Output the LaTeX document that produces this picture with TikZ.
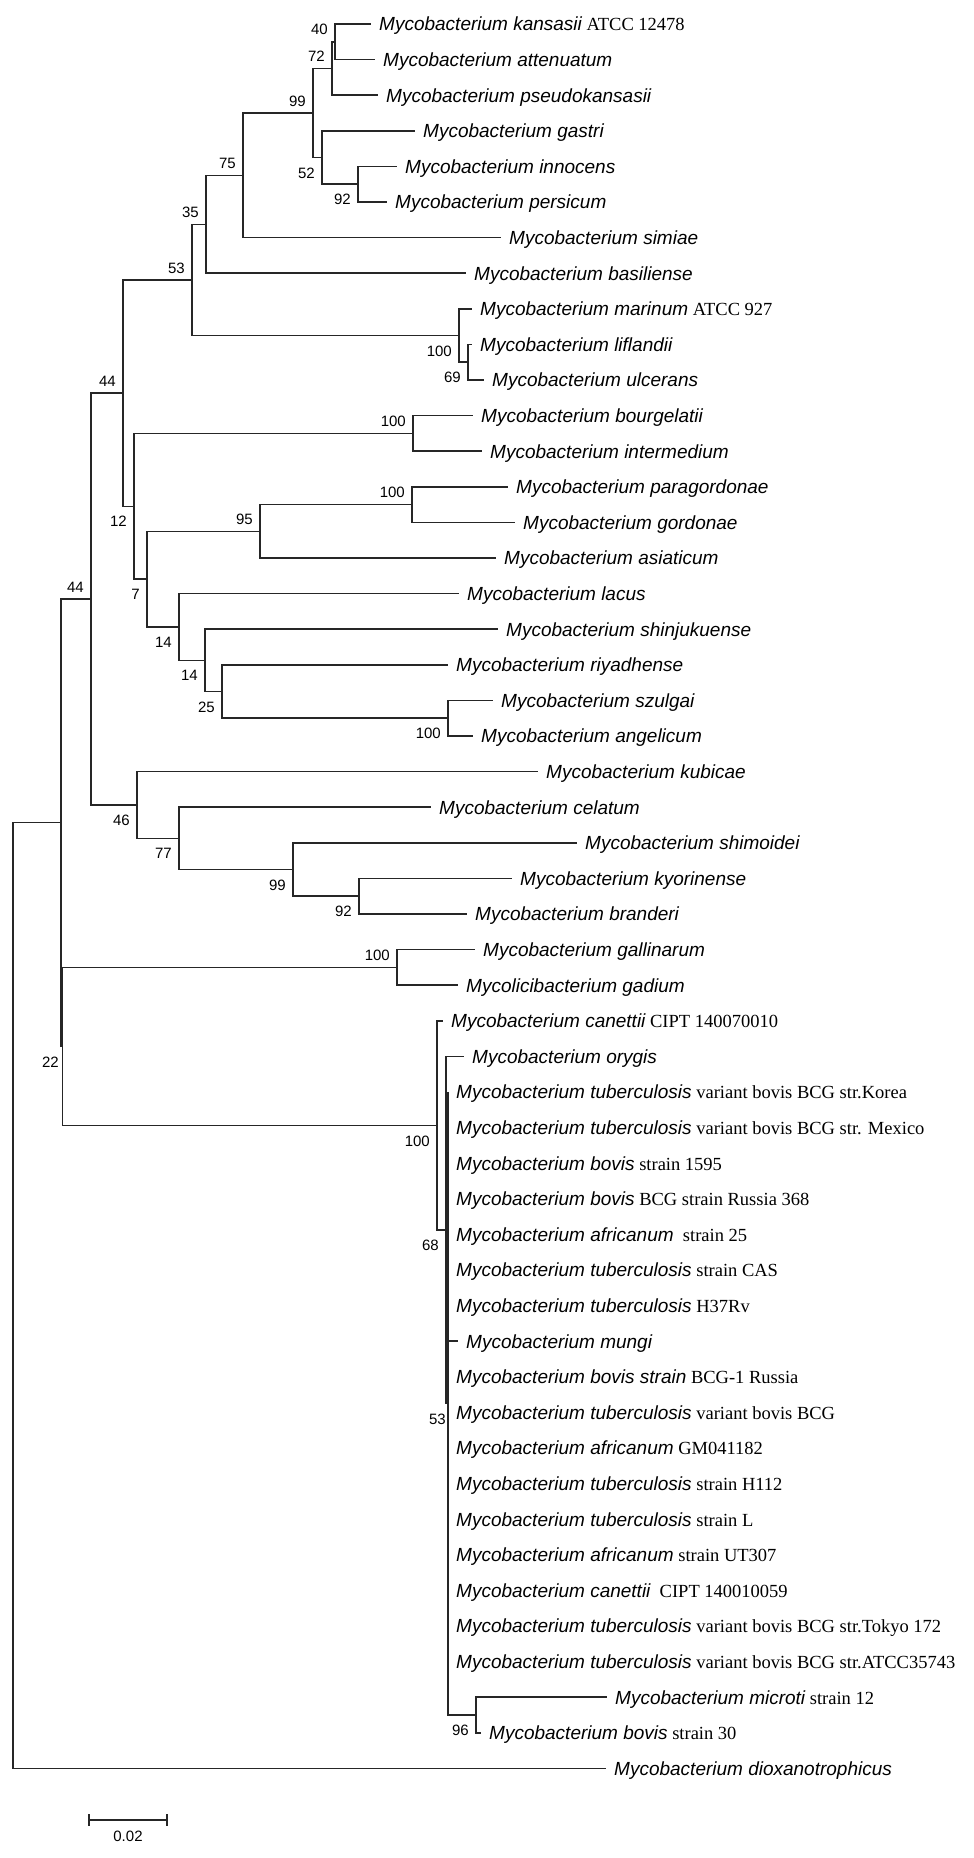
\documentclass[tikz,border=0pt]{standalone}
\usepackage{fontspec}
\setmainfont{Liberation Serif}
\setsansfont{Liberation Sans}
\usepackage{tikz}
\newcommand{\taxit}[1]{{\sffamily\itshape\fontsize{19}{22}\selectfont #1}}
\newcommand{\bsfont}{\sffamily\fontsize{15}{17}\selectfont}
\begin{document}
\begin{tikzpicture}[x=1pt,y=-35.6pt,
    branch/.style={line width=1.5pt,black!85},
    taxon/.style={anchor=base west,inner sep=0pt,xshift=8pt,yshift=-6.8pt,font=\fontsize{18.5}{22}\selectfont},
    bsup/.style={anchor=south east,inner sep=0pt,xshift=-7pt,yshift=6.5pt,font=\bsfont},
    bslow/.style={anchor=north east,inner sep=0pt,xshift=-7pt,yshift=-10pt,font=\bsfont}]
      \useasboundingbox (0,-0.6742) rectangle (974,51.517);
      % leaf tips
      \coordinate (l0) at (371,0);  \coordinate (l1) at (375,1);  \coordinate (l2) at (378,2);
      \coordinate (l3) at (415,3);  \coordinate (l4) at (397,4);  \coordinate (l5) at (387,5);
      \coordinate (l6) at (501,6);  \coordinate (l7) at (466,7);  \coordinate (l8) at (472,8);
      \coordinate (l9) at (472,9);  \coordinate (l10) at (484,10); \coordinate (l11) at (473,11);
      \coordinate (l12) at (482,12); \coordinate (l13) at (508,13); \coordinate (l14) at (515,14);
      \coordinate (l15) at (496,15); \coordinate (l16) at (459,16); \coordinate (l17) at (498,17);
      \coordinate (l18) at (448,18); \coordinate (l19) at (493,19); \coordinate (l20) at (473,20);
      \coordinate (l21) at (538,21); \coordinate (l22) at (431,22); \coordinate (l23) at (577,23);
      \coordinate (l24) at (512,24); \coordinate (l25) at (467,25); \coordinate (l26) at (475,26);
      \coordinate (l27) at (458,27); \coordinate (l28) at (443,28); \coordinate (l29) at (464,29);
      \coordinate (l30) at (448,30); \coordinate (l31) at (448,31); \coordinate (l32) at (448,32);
      \coordinate (l33) at (448,33); \coordinate (l34) at (448,34); \coordinate (l35) at (448,35);
      \coordinate (l36) at (448,36); \coordinate (l37) at (458,37); \coordinate (l38) at (448,38);
      \coordinate (l39) at (448,39); \coordinate (l40) at (448,40); \coordinate (l41) at (448,41);
      \coordinate (l42) at (448,42); \coordinate (l43) at (448,43); \coordinate (l44) at (448,44);
      \coordinate (l45) at (448,45); \coordinate (l46) at (448,46); \coordinate (l47) at (607,47);
      \coordinate (l48) at (481,48); \coordinate (l49) at (606,49);
      % inner nodes
      \coordinate (n40) at (335,0.5);
      \coordinate (n72) at (332,1.25);
      \coordinate (n92a) at (358,4.5);
      \coordinate (n52) at (322,3.75);
      \coordinate (n99a) at (313,2.5);
      \coordinate (n75) at (243,4.25);
      \coordinate (n35) at (206,5.625);
      \coordinate (n69) at (468,9.5);
      \coordinate (n100a) at (459,8.75);
      \coordinate (n53a) at (192,7.1875);
      \coordinate (n100b) at (413,11.5);
      \coordinate (n100c) at (412,13.5);
      \coordinate (n95) at (260,14.25);
      \coordinate (n100d) at (448,19.5);
      \coordinate (n25) at (222,18.75);
      \coordinate (n14b) at (205,17.875);
      \coordinate (n14a) at (179,16.9375);
      \coordinate (n7) at (147,15.59375);
      \coordinate (n12) at (134,13.546875);
      \coordinate (n44a) at (123,10.3671875);
      \coordinate (n92b) at (359,24.5);
      \coordinate (n99b) at (293,23.75);
      \coordinate (n77) at (179,22.875);
      \coordinate (n46) at (137,21.9375);
      \coordinate (n44b) at (91,16.15234);
      \coordinate (n100e) at (397,26.5);
      \coordinate (n96) at (476,47.5);
      \coordinate (n53b) at (448,38.75);
      \coordinate (n68) at (446,33.875);
      \coordinate (n100f) at (437,30.9375);
      \coordinate (n22) at (62.5,28.71875);
      \coordinate (n61) at (61,22.43555);
      \coordinate (root) at (13,35.71778);
      % branches
      \draw[branch] (n40) |- (l0);  \draw[branch] (n40) |- (l1);
      \draw[branch] (n72) |- (n40); \draw[branch] (n72) |- (l2);
      \draw[branch] (n92a) |- (l4); \draw[branch] (n92a) |- (l5);
      \draw[branch] (n52) |- (l3);  \draw[branch] (n52) |- (n92a);
      \draw[branch] (n99a) |- (n72); \draw[branch] (n99a) |- (n52);
      \draw[branch] (n75) |- (n99a); \draw[branch] (n75) |- (l6);
      \draw[branch] (n35) |- (n75); \draw[branch] (n35) |- (l7);
      \draw[branch] (n69) |- (l9);  \draw[branch] (n69) |- (l10);
      \draw[branch] (n100a) |- (l8); \draw[branch] (n100a) |- (n69);
      \draw[branch] (n53a) |- (n35); \draw[branch] (n53a) |- (n100a);
      \draw[branch] (n100b) |- (l11); \draw[branch] (n100b) |- (l12);
      \draw[branch] (n100c) |- (l13); \draw[branch] (n100c) |- (l14);
      \draw[branch] (n95) |- (n100c); \draw[branch] (n95) |- (l15);
      \draw[branch] (n100d) |- (l19); \draw[branch] (n100d) |- (l20);
      \draw[branch] (n25) |- (l18); \draw[branch] (n25) |- (n100d);
      \draw[branch] (n14b) |- (l17); \draw[branch] (n14b) |- (n25);
      \draw[branch] (n14a) |- (l16); \draw[branch] (n14a) |- (n14b);
      \draw[branch] (n7) |- (n95);  \draw[branch] (n7) |- (n14a);
      \draw[branch] (n12) |- (n100b); \draw[branch] (n12) |- (n7);
      \draw[branch] (n44a) |- (n53a); \draw[branch] (n44a) |- (n12);
      \draw[branch] (n92b) |- (l24); \draw[branch] (n92b) |- (l25);
      \draw[branch] (n99b) |- (l23); \draw[branch] (n99b) |- (n92b);
      \draw[branch] (n77) |- (l22); \draw[branch] (n77) |- (n99b);
      \draw[branch] (n46) |- (l21); \draw[branch] (n46) |- (n77);
      \draw[branch] (n44b) |- (n44a); \draw[branch] (n44b) |- (n46);
      \draw[branch] (n100e) |- (l26); \draw[branch] (n100e) |- (l27);
      \draw[branch] (n96) |- (l47); \draw[branch] (n96) |- (l48);
      \draw[branch] (n53b) |- (l30); \draw[branch] (n53b) |- (n96);
      \draw[branch] (n53b) |- (l37);
      \draw[branch] (n68) |- (l29); \draw[branch] (n68) |- (n53b);
      \draw[branch] (n100f) |- (l28); \draw[branch] (n100f) |- (n68);
      \draw[branch] (n22) |- (n100e); \draw[branch] (n22) |- (n100f);
      \draw[branch] (n61) |- (n44b); \draw[branch] (n61) |- (n22);
      \draw[branch] (root) |- (n61); \draw[branch] (root) |- (l49);
      % bootstrap values
      \node[bsup] (b40) at (n40) {40};
      \node[bsup] (b72) at (n72) {72};
      \node[bslow] (b92a) at (n92a) {92};
      \node[bslow] (b52) at (n52) {52};
      \node[bsup] (b99a) at (n99a) {99};
      \node[bsup] (b75) at (n75) {75};
      \node[bsup] (b35) at (n35) {35};
      \node[bslow] (b69) at (n69) {69};
      \node[bslow] (b100a) at (n100a) {100};
      \node[bsup] (b53a) at (n53a) {53};
      \node[bsup] (b100b) at (n100b) {100};
      \node[bsup] (b100c) at (n100c) {100};
      \node[bsup] (b95) at (n95) {95};
      \node[bslow] (b100d) at (n100d) {100};
      \node[bslow] (b25) at (n25) {25};
      \node[bslow] (b14b) at (n14b) {14};
      \node[bslow] (b14a) at (n14a) {14};
      \node[bslow] (b7) at (n7) {7};
      \node[bslow] (b12) at (n12) {12};
      \node[bsup] (b44a) at (n44a) {44};
      \node[bslow] (b92b) at (n92b) {92};
      \node[bslow] (b99b) at (n99b) {99};
      \node[bslow] (b77) at (n77) {77};
      \node[bslow] (b46) at (n46) {46};
      \node[bsup] (b44b) at (n44b) {44};
      \node[bsup] (b100e) at (n100e) {100};
      \node[bslow] (b96) at (n96) {96};
      \node[bslow,xshift=5pt] (b53b) at (n53b) {53};
      \node[bslow] (b68) at (n68) {68};
      \node[bslow] (b100f) at (n100f) {100};
      \node[bslow,xshift=3.5pt] (b22) at (n22) {22};
      % taxa
      \node[taxon] (t0) at (l0) {\taxit{Mycobacterium kansasii} ATCC 12478};
      \node[taxon] (t1) at (l1) {\taxit{Mycobacterium attenuatum}};
      \node[taxon] (t2) at (l2) {\taxit{Mycobacterium pseudokansasii}};
      \node[taxon] (t3) at (l3) {\taxit{Mycobacterium gastri}};
      \node[taxon] (t4) at (l4) {\taxit{Mycobacterium innocens}};
      \node[taxon] (t5) at (l5) {\taxit{Mycobacterium persicum}};
      \node[taxon] (t6) at (l6) {\taxit{Mycobacterium simiae}};
      \node[taxon] (t7) at (l7) {\taxit{Mycobacterium basiliense}};
      \node[taxon] (t8) at (l8) {\taxit{Mycobacterium marinum} ATCC 927};
      \node[taxon] (t9) at (l9) {\taxit{Mycobacterium liflandii}};
      \node[taxon] (t10) at (l10) {\taxit{Mycobacterium ulcerans}};
      \node[taxon] (t11) at (l11) {\taxit{Mycobacterium bourgelatii}};
      \node[taxon] (t12) at (l12) {\taxit{Mycobacterium intermedium}};
      \node[taxon] (t13) at (l13) {\taxit{Mycobacterium paragordonae}};
      \node[taxon] (t14) at (l14) {\taxit{Mycobacterium gordonae}};
      \node[taxon] (t15) at (l15) {\taxit{Mycobacterium asiaticum}};
      \node[taxon] (t16) at (l16) {\taxit{Mycobacterium lacus}};
      \node[taxon] (t17) at (l17) {\taxit{Mycobacterium shinjukuense}};
      \node[taxon] (t18) at (l18) {\taxit{Mycobacterium riyadhense}};
      \node[taxon] (t19) at (l19) {\taxit{Mycobacterium szulgai}};
      \node[taxon] (t20) at (l20) {\taxit{Mycobacterium angelicum}};
      \node[taxon] (t21) at (l21) {\taxit{Mycobacterium kubicae}};
      \node[taxon] (t22) at (l22) {\taxit{Mycobacterium celatum}};
      \node[taxon] (t23) at (l23) {\taxit{Mycobacterium shimoidei}};
      \node[taxon] (t24) at (l24) {\taxit{Mycobacterium kyorinense}};
      \node[taxon] (t25) at (l25) {\taxit{Mycobacterium branderi}};
      \node[taxon] (t26) at (l26) {\taxit{Mycobacterium gallinarum}};
      \node[taxon] (t27) at (l27) {\taxit{Mycolicibacterium gadium}};
      \node[taxon] (t28) at (l28) {\taxit{Mycobacterium canettii} CIPT 140070010};
      \node[taxon] (t29) at (l29) {\taxit{Mycobacterium orygis}};
      \node[taxon] (t30) at (l30) {\taxit{Mycobacterium tuberculosis} variant bovis BCG str.Korea};
      \node[taxon] (t31) at (l31) {\taxit{Mycobacterium tuberculosis} variant bovis BCG str. Mexico};
      \node[taxon] (t32) at (l32) {\taxit{Mycobacterium bovis} strain 1595};
      \node[taxon] (t33) at (l33) {\taxit{Mycobacterium bovis} BCG strain Russia 368};
      \node[taxon] (t34) at (l34) {\taxit{Mycobacterium africanum} \ strain 25};
      \node[taxon] (t35) at (l35) {\taxit{Mycobacterium tuberculosis} strain CAS};
      \node[taxon] (t36) at (l36) {\taxit{Mycobacterium tuberculosis} H37Rv};
      \node[taxon] (t37) at (l37) {\taxit{Mycobacterium mungi}};
      \node[taxon] (t38) at (l38) {\taxit{Mycobacterium bovis strain} BCG-1 Russia};
      \node[taxon] (t39) at (l39) {\taxit{Mycobacterium tuberculosis} variant bovis BCG};
      \node[taxon] (t40) at (l40) {\taxit{Mycobacterium africanum} GM041182};
      \node[taxon] (t41) at (l41) {\taxit{Mycobacterium tuberculosis} strain H112};
      \node[taxon] (t42) at (l42) {\taxit{Mycobacterium tuberculosis} strain L};
      \node[taxon] (t43) at (l43) {\taxit{Mycobacterium africanum} strain UT307};
      \node[taxon] (t44) at (l44) {\taxit{Mycobacterium canettii} \ CIPT 140010059};
      \node[taxon] (t45) at (l45) {\taxit{Mycobacterium tuberculosis} variant bovis BCG str.Tokyo 172};
      \node[taxon] (t46) at (l46) {\taxit{Mycobacterium tuberculosis} variant bovis BCG str.ATCC35743};
      \node[taxon] (t47) at (l47) {\taxit{Mycobacterium microti} strain 12};
      \node[taxon] (t48) at (l48) {\taxit{Mycobacterium bovis} strain 30};
      \node[taxon] (t49) at (l49) {\taxit{Mycobacterium dioxanotrophicus}};
      % scale bar
      \coordinate (sb1) at (89,50.449);
      \coordinate (sb2) at (167,50.449);
      \draw[branch] (sb1) -- (sb2);
      \draw[branch] ([yshift=6pt]sb1) -- ([yshift=-6pt]sb1);
      \draw[branch] ([yshift=6pt]sb2) -- ([yshift=-6pt]sb2);
      \node[font=\bsfont,inner sep=0pt] (sbl) at (128,50.899) {0.02};
\end{tikzpicture}
\end{document}
